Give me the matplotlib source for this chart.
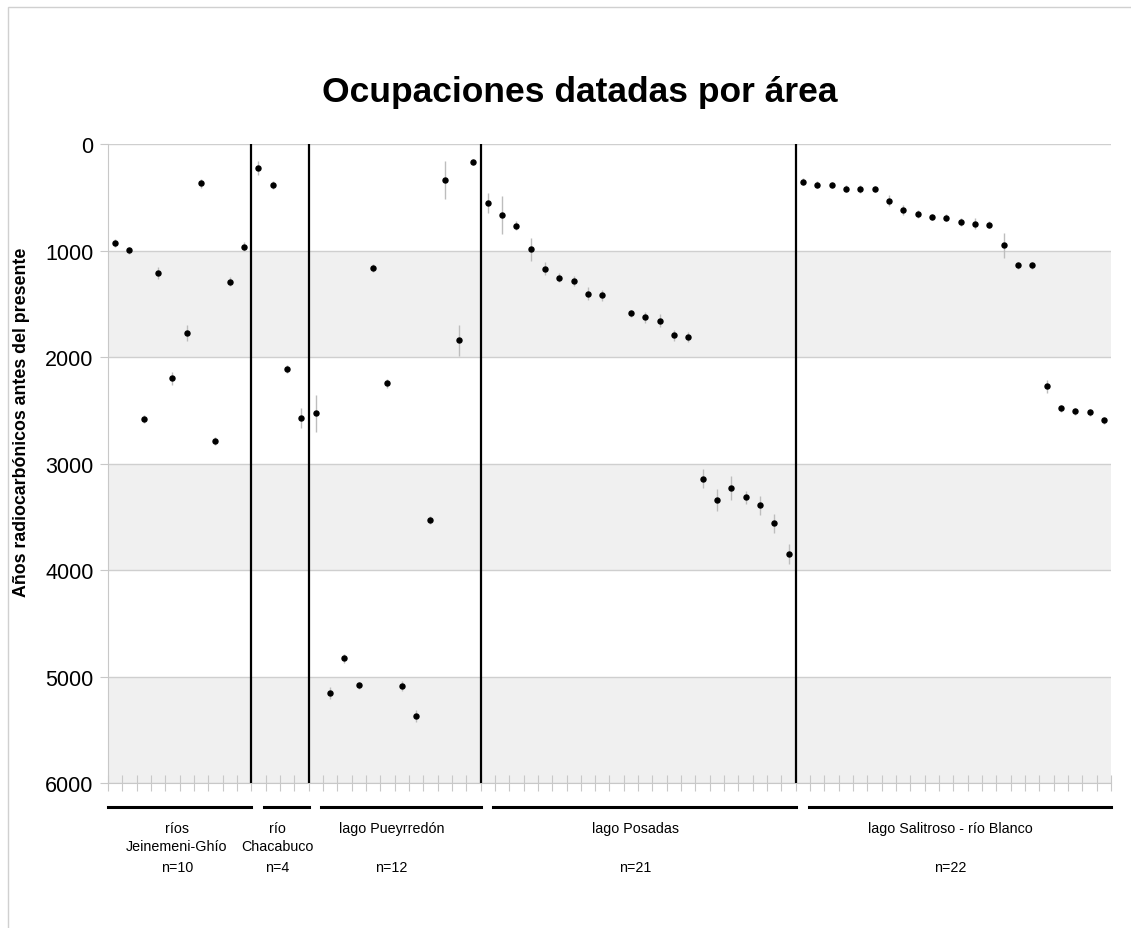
import numpy as np
import matplotlib
matplotlib.use("Agg")
import matplotlib.pyplot as plt
from matplotlib.patches import Rectangle
from matplotlib.transforms import blended_transform_factory

plt.rcParams["font.family"] = ["Liberation Sans", "DejaVu Sans"]

# radiocarbon ages (years BP) and their +/- errors, one list per area
GROUPS = ["ríos\nJeinemeni-Ghío", "río\nChacabuco", "lago Pueyrredón", "lago Posadas",
          "lago Salitroso - río Blanco"]
N_LABELS = ["n=10", "n=4", "n=12", "n=21", "n=22"]

jeinemeni = [925, 997, 2581, 1206, 2200, 1771, 366, 2787, 1290, 962]
jeinemeni_err = [40, 30, 40, 55, 60, 75, 40, 40, 40, 40]
chacabuco = [225, 384, 2112, 2574]
chacabuco_err = [65, 40, 40, 95]
pueyrredon = [2528, 5155, 4830, 5083, 1162, 2246, 5089, 5370, 3530, 335, 1843, 169]
pueyrredon_err = [170, 60, 40, 30, 40, 40, 50, 60, 40, 175, 145, 30]
posadas = [550, 663, 763, 988, 1169, 1253, 1284, 1403, 1419, np.nan, 1588, 1625, 1656,
           1794, 1809, 3143, 3343, 3228, 3315, 3393, 3562, 3852]
posadas_err = [95, 175, 40, 105, 60, 40, 50, 60, 50, 0, 30, 50, 60, 50, 50, 90, 105,
               115, 60, 85, 85, 95]
salitroso = [350, 379, 381, 416, 419, 419, 529, 616, 653, 681, 688, 728, 747, 754, 950,
             1138, 1138, 2275, 2481, 2509, 2519, 2594]
salitroso_err = [30, 30, 30, 30, 40, 30, 50, 50, 40, 30, 30, 40, 50, 30, 115, 30, 30,
                 60, 30, 30, 30, 30]

SERIES = [(jeinemeni, jeinemeni_err), (chacabuco, chacabuco_err), (pueyrredon, pueyrredon_err),
          (posadas, posadas_err), (salitroso, salitroso_err)]

W, H = 1131, 929
fig = plt.figure(figsize=(W / 100, H / 100), dpi=100)
ax = fig.add_axes([108 / W, 1 - 784 / H, (1111 - 108) / W, (784 - 145.3) / H])

# alternating bands
for k in range(6):
    ax.axhspan(k * 1000, (k + 1) * 1000, color="#f0f0f0" if k % 2 else "white", zorder=0, lw=0)
for k in range(7):
    ax.axhline(k * 1000, color="#cfcfcf", lw=1.0, zorder=1)

vals = np.concatenate([np.asarray(v, float) for v, _ in SERIES])
errs = np.concatenate([np.asarray(e, float) for _, e in SERIES])
xs = np.arange(len(vals)) + 0.5
ax.errorbar(xs, vals, yerr=errs, fmt="o", ms=3.6, color="black", ecolor="#bdbdbd",
            elinewidth=1.0, capsize=0, zorder=4)

sizes = [len(v) for v, _ in SERIES]
edges = np.concatenate([[0], np.cumsum(sizes)])
for e in edges[1:-1]:
    ax.axvline(e, color="black", lw=1.6, zorder=5)

ax.set_xlim(0, edges[-1])
ax.set_ylim(6000, 0)
ax.set_yticks(range(0, 6001, 1000))
ax.set_xticks(range(0, edges[-1] + 1))
ax.set_xticklabels([])
ax.tick_params(axis="x", direction="inout", length=11, color="#c8c8c8", width=0.8)
ax.tick_params(axis="y", direction="out", length=6, color="#c8c8c8", labelsize=15.5, pad=4.5)
for s in ["top", "right"]:
    ax.spines[s].set_visible(False)
ax.spines["left"].set_color("#c8c8c8")
ax.spines["bottom"].set_color("#c8c8c8")
ax.set_ylabel("Años radiocarbónicos antes del presente", fontsize=12.8, fontweight="bold")
ax.yaxis.set_label_coords(-0.078, 0.566)

# group underlines and labels below the axis
tr = blended_transform_factory(ax.transData, ax.transAxes)
for i, (name, nlab) in enumerate(zip(GROUPS, N_LABELS)):
    a, b = edges[i], edges[i + 1]
    x0 = a if i == 0 else a + 0.9
    ax.plot([x0, b], [-0.037, -0.037], color="black", lw=2.2, transform=tr, clip_on=False)
    mid = (a + b) / 2
    ax.text(mid - 0.2, -0.06, name, transform=tr, ha="center", va="top", fontsize=10.3,
            linespacing=1.3)
    ax.text(mid - 0.2, -0.12, nlab, transform=tr, ha="center", va="top", fontsize=10.3)

fig.text(0.513, 0.9, "Ocupaciones datadas por área", ha="center", va="center",
         fontsize=25.5, fontweight="bold")

fig.patches.append(Rectangle((8 / W, -0.01), 1.2, 1 - 8 / H + 0.01, transform=fig.transFigure,
                             fill=False, edgecolor="#d0d0d0", lw=1.0))

fig.savefig("out.png", dpi=100)
